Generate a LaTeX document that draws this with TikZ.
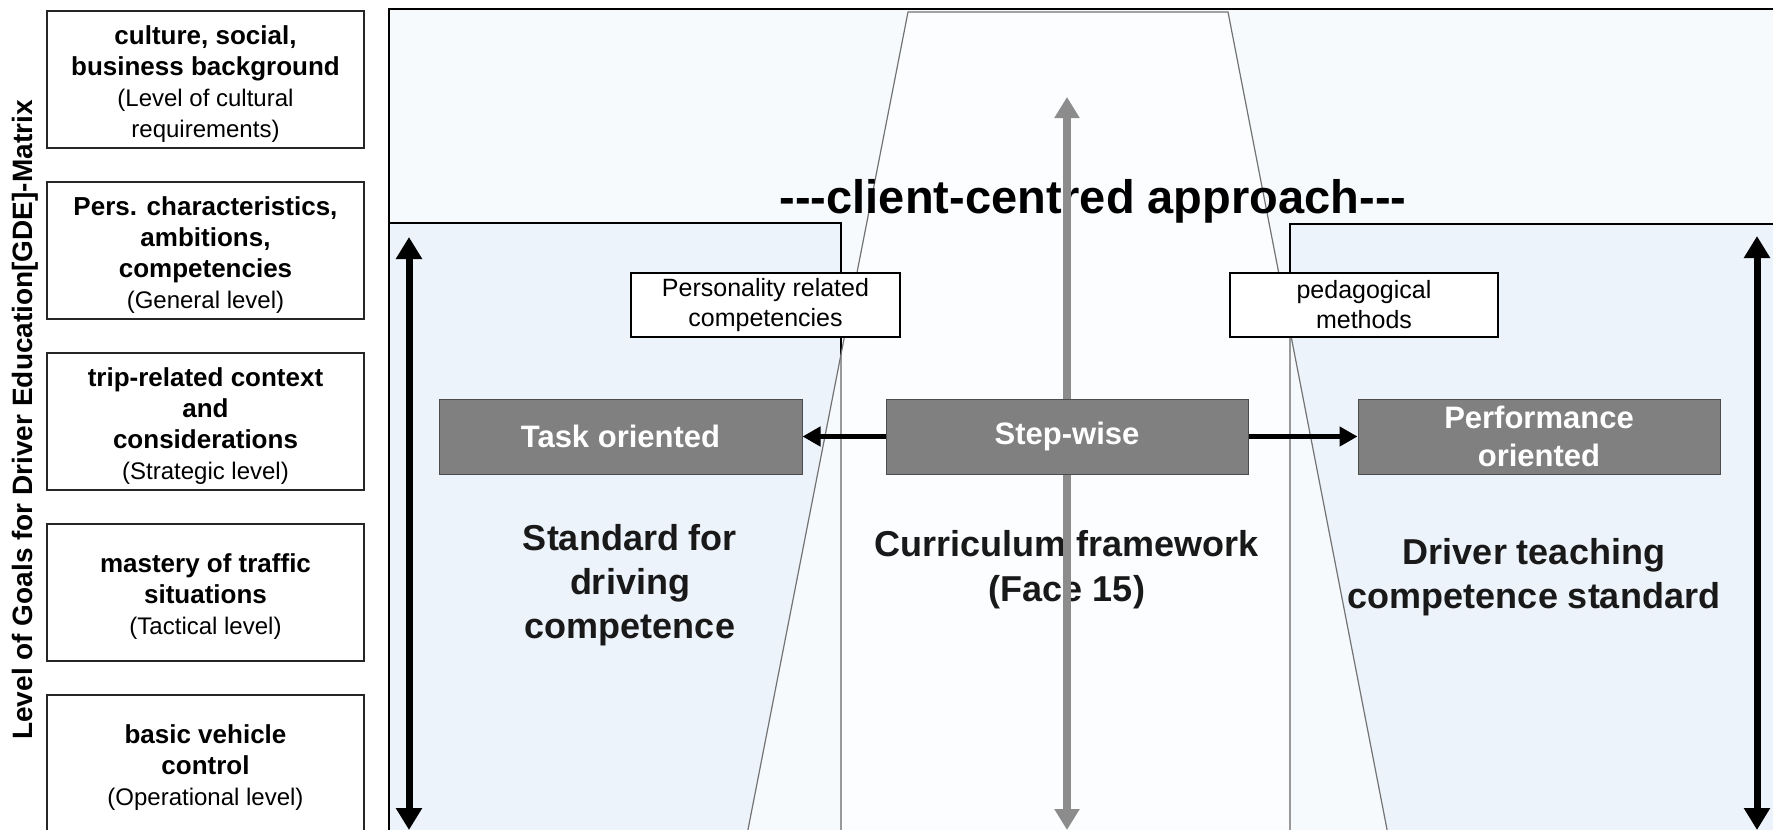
\documentclass[tikz,border=0pt]{standalone}
\usepackage{fontspec}
\setmainfont{Liberation Sans}
\usetikzlibrary{arrows.meta}
\definecolor{framefill}{HTML}{F7FAFD}
\definecolor{panelfill}{HTML}{EDF3FA}
\definecolor{boxgray}{HTML}{808080}
\definecolor{arrowgray}{HTML}{8C8C8C}
\tikzset{
  levelbox/.style={draw=black!85, line width=1.5pt, fill=white, minimum width=317pt, minimum height=137pt, inner sep=0pt, align=center, font=\fontsize{26}{31}\selectfont\bfseries},
  graybox/.style={draw=black!70, line width=1pt, fill=boxgray, text=white, minimum width=363pt, minimum height=75pt, inner sep=0pt, align=center, font=\fontsize{31}{38}\selectfont\bfseries},
  notebox/.style={draw=black, line width=1.2pt, fill=white, minimum width=269pt, minimum height=64pt, inner sep=0pt, align=center, font=\fontsize{25}{30}\selectfont},
  bigtext/.style={align=center, text=black!90, font=\fontsize{36}{44}\selectfont\bfseries},
  blackarrow/.style={line width=7pt, {Triangle[width=25pt,length=22pt]}-{Triangle[width=25pt,length=22pt]}},
  grayarrow/.style={draw=arrowgray, line width=8pt, {Triangle[width=24pt,length=21pt]}-{Triangle[width=24pt,length=21pt]}},
  sidearrow/.style={line width=5pt, -{Triangle[width=19pt,length=18pt]}}
}
\newcommand{\lvltop}{\rule{0pt}{27pt}}
\newcommand{\lvlsub}[1]{{\fontsize{24}{30}\selectfont\mdseries #1}}
\begin{document}
\begin{tikzpicture}[x=1pt,y=-1pt]
  %%%%% START %%%%%
  \useasboundingbox (0,0) rectangle (1773,830);
  \clip (0,0) rectangle (1773,830);

  % frame, side panels and the funnel
  \draw[line width=2pt, fill=framefill] (389,9) rectangle (1800,860);
  \draw[line width=1.5pt, fill=panelfill] (389,223) rectangle (841,860);
  \draw[line width=1.5pt, fill=panelfill] (1290,224) rectangle (1800,860);
  \draw[draw=black!55, line width=1.2pt, fill=white, fill opacity=0.6] (744,850) -- (908,12) -- (1228,12) -- (1391,850);

  % levels of the GDE matrix
  \node[levelbox] (culture) at (205.5,79.5) {\lvltop culture, social,\\business background\\\lvlsub{(Level of cultural}\\\lvlsub{requirements)}};
  \node[levelbox] (general) at (205.5,250.5) {\lvltop Pers. characteristics,\\ambitions,\\competencies\\\lvlsub{(General level)}};
  \node[levelbox] (strategic) at (205.5,421.5) {\lvltop trip-related context\\and\\considerations\\\lvlsub{(Strategic level)}};
  \node[levelbox] (tactical) at (205.5,592.5) {\lvltop mastery of traffic\\situations\\\lvlsub{(Tactical level)}};
  \node[levelbox] (operational) at (205.5,763.5) {\lvltop basic vehicle\\control\\\lvlsub{(Operational level)}};
  \node[rotate=90, font=\fontsize{28}{32}\selectfont\bfseries] (gde) at (25,420) {Level of Goals for Driver Education[GDE]-Matrix};

  % texts
  \node[anchor=base, font=\fontsize{47}{50}\selectfont\bfseries] (client) at (1093,213) {-\kern0pt-\kern0pt-client-centred approach-\kern0pt-\kern0pt-};
  \node[bigtext] (standard) at (630,585) {Standard for\\driving\\competence};
  \node[bigtext, font=\fontsize{36}{45}\selectfont\bfseries] (curriculum) at (1067,570) {Curriculum framework\\(Face 15)};
  \node[bigtext] (teaching) at (1534,577) {Driver teaching\\competence standard};

  % arrows
  \coordinate (gtop) at (1067,97);
  \coordinate (gbot) at (1067,830);
  \draw[grayarrow] (gtop) -- (gbot);
  \coordinate (ltop) at (409,237);
  \coordinate (lbot) at (409,830);
  \draw[blackarrow] (ltop) -- (lbot);
  \coordinate (rtop) at (1757,236);
  \coordinate (rbot) at (1757,830);
  \draw[blackarrow] (rtop) -- (rbot);

  % boxes
  \node[graybox] (task) at (620.5,436.5) {Task oriented};
  \node[graybox, minimum width=362pt] (step) at (1067,436.5) {Step-wise};
  \node[graybox, minimum width=362pt] (perf) at (1539,436.5) {Performance\\oriented};
  \node[notebox] (pers) at (765.5,305) {Personality related\\competencies};
  \node[notebox, minimum width=268pt] (peda) at (1364,305) {pedagogical\\methods};

  \draw[sidearrow] (step.west) -- (task.east);
  \draw[sidearrow] (step.east) -- (perf.west);
  %%%%% END %%%%%
\end{tikzpicture}
\end{document}
